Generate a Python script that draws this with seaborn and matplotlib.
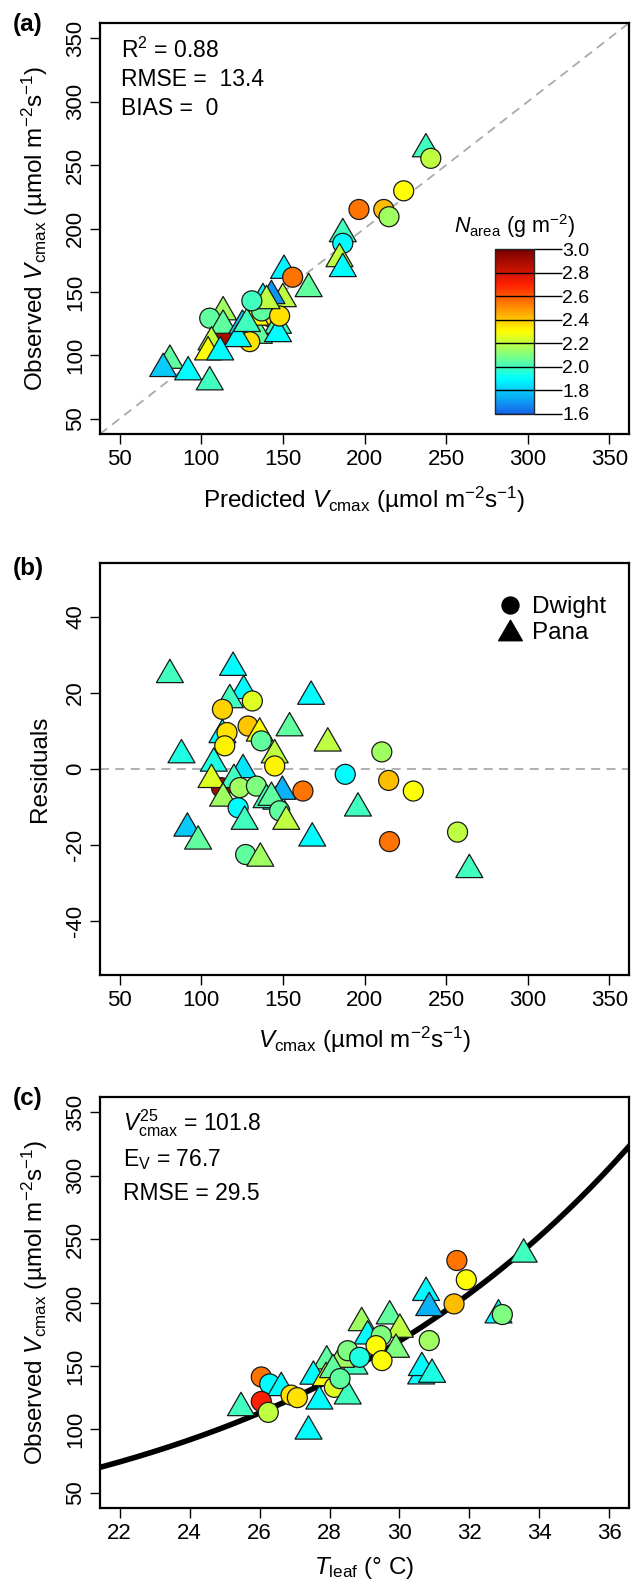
import numpy as np
import pandas as pd
import matplotlib
matplotlib.use("Agg")
import matplotlib.pyplot as plt
import seaborn as sns
from matplotlib.colors import LinearSegmentedColormap, Normalize
from matplotlib.path import Path
from matplotlib.lines import Line2D
from matplotlib.cm import ScalarMappable

# ---- panel (a): predicted vs observed Vcmax
a_site = ["Dwight", "Pana", "Dwight", "Dwight", "Dwight", "Dwight", "Dwight", "Pana", "Dwight", "Pana",
          "Pana", "Pana", "Dwight", "Pana", "Pana", "Pana", "Pana", "Pana", "Dwight", "Pana",
          "Pana", "Dwight", "Pana", "Pana", "Pana", "Dwight", "Pana", "Pana", "Pana", "Pana",
          "Pana", "Pana", "Pana", "Pana", "Pana", "Dwight", "Pana", "Dwight", "Pana", "Dwight"]
a_pred = [113.0, 237.6, 240.6, 224.0, 196.6, 211.8, 215.0, 186.7, 186.7, 184.7,
          186.7, 150.7, 156.0, 165.8, 137.8, 150.0, 143.0, 113.4, 105.2, 113.4,
          125.2, 141.9, 147.0, 135.3, 147.0, 129.7, 122.5, 106.3, 104.2, 111.6,
          80.8, 76.7, 92.0, 105.2, 133.0, 137.0, 128.0, 148.0, 140.0, 131.0]
a_obs = [114.0, 265.7, 255.3, 229.7, 215.0, 215.0, 209.3, 198.8, 188.3, 179.1,
         171.3, 169.9, 161.6, 155.5, 147.6, 147.6, 150.0, 137.2, 129.3, 126.6,
         126.6, 130.5, 126.6, 118.7, 120.0, 110.8, 116.1, 113.5, 105.6, 105.6,
         99.0, 92.5, 89.9, 82.0, 133.0, 135.0, 128.0, 131.0, 146.0, 143.0]
a_narea = [2.9, 2.0, 2.2, 2.3, 2.55, 2.42, 2.15, 2.0, 1.9, 2.2,
           1.9, 1.88, 2.55, 2.05, 1.9, 2.2, 1.7, 2.15, 2.05, 2.05,
           1.8, 2.35, 2.0, 2.05, 1.9, 2.35, 1.9, 2.2, 2.3, 1.9,
           2.05, 1.8, 1.9, 2.0, 2.3, 2.05, 2.0, 2.35, 2.2, 2.0]

# ---- panel (b): residuals
b_site = ["Dwight", "Pana", "Pana", "Pana", "Pana", "Dwight", "Dwight", "Pana", "Pana", "Pana",
          "Dwight", "Pana", "Dwight", "Pana", "Dwight", "Dwight", "Pana", "Pana", "Pana", "Dwight",
          "Pana", "Pana", "Pana", "Dwight", "Dwight", "Pana", "Pana", "Pana", "Pana", "Pana",
          "Dwight", "Dwight", "Dwight", "Pana", "Pana", "Pana", "Pana", "Pana", "Dwight", "Pana",
          "Dwight", "Dwight", "Dwight", "Dwight", "Pana", "Dwight", "Dwight", "Pana"]
b_vcmax = [112.4, 80.8, 119.5, 126.0, 117.5, 131.3, 113.0, 167.3, 154.1, 177.5,
           128.7, 135.8, 136.8, 113.0, 115.8, 114.4, 87.9, 107.7, 145.0, 145.0,
           125.6, 106.3, 120.0, 123.6, 133.8, 113.4, 146.0, 140.0, 149.7, 143.0,
           162.3, 122.6, 148.0, 126.6, 152.1, 91.5, 98.1, 168.0, 127.2, 136.2,
           210.6, 188.2, 214.8, 229.9, 196.0, 215.3, 257.0, 264.2]
b_resid = [-4.9, 25.8, 27.7, 21.6, 19.2, 17.9, 15.7, 20.1, 11.8, 7.8,
           11.3, 10.4, 7.4, 10.0, 9.6, 6.1, 4.7, 2.5, 4.7, 0.8,
           0.8, -1.8, -1.8, -4.9, -4.5, -6.7, -7.5, -7.1, -4.9, -6.5,
           -5.8, -10.2, -11.0, -12.8, -12.8, -14.6, -18.0, -17.2, -22.5, -22.5,
           4.5, -1.4, -3.0, -5.8, -9.3, -19.1, -16.6, -25.5]
b_narea = [2.9, 2.0, 1.9, 1.9, 2.0, 2.25, 2.38, 1.9, 2.05, 2.2,
           2.4, 2.3, 2.05, 1.9, 2.35, 2.32, 1.95, 1.95, 2.2, 2.32,
           1.85, 2.25, 2.0, 2.15, 2.1, 2.15, 1.9, 2.0, 1.75, 2.05,
           2.55, 1.9, 2.05, 2.0, 2.2, 1.8, 2.05, 1.9, 2.05, 2.15,
           2.15, 1.9, 2.42, 2.3, 2.0, 2.55, 2.2, 2.0]

# ---- panel (c): Vcmax vs leaf temperature
c_site = ["Pana", "Dwight", "Dwight", "Pana", "Pana", "Dwight", "Pana", "Dwight", "Pana", "Pana",
          "Pana", "Pana", "Dwight", "Dwight", "Pana", "Dwight", "Pana", "Pana", "Pana", "Dwight",
          "Dwight", "Pana", "Pana", "Dwight", "Pana", "Pana", "Dwight", "Dwight", "Pana", "Dwight",
          "Dwight", "Dwight", "Pana", "Dwight", "Pana", "Pana", "Pana", "Pana", "Dwight", "Pana", "Dwight"]
c_tleaf = [33.55, 31.64, 31.91, 30.76, 30.85, 31.56, 32.83, 32.94, 28.92, 29.72,
           30.01, 29.09, 29.48, 29.33, 29.9, 29.5, 28.71, 28.33, 27.92, 28.52,
           28.86, 27.54, 27.9, 28.14, 28.52, 27.71, 26.05, 26.29, 26.62, 26.9,
           27.08, 26.05, 25.47, 26.25, 27.4, 30.62, 30.64, 30.93, 30.85, 28.1, 28.3]
c_vcmax = [241.0, 233.1, 217.9, 210.8, 198.9, 198.9, 193.1, 190.5, 187.0, 192.3,
           181.8, 176.5, 173.9, 166.0, 166.0, 154.2, 152.8, 158.1, 156.8, 162.0,
           156.8, 144.8, 143.7, 133.1, 129.2, 125.2, 141.3, 135.8, 135.8, 127.0,
           125.0, 122.0, 120.0, 113.4, 101.5, 145.0, 151.6, 146.3, 170.0, 150.0, 140.0]
c_narea = [2.0, 2.55, 2.3, 1.9, 1.75, 2.42, 1.9, 2.1, 2.15, 2.05,
           2.2, 1.9, 2.1, 2.3, 2.1, 2.3, 2.0, 2.15, 2.05, 2.1,
           1.95, 1.9, 2.3, 2.25, 2.0, 1.9, 2.55, 1.9, 1.9, 2.35,
           2.35, 2.7, 2.0, 2.2, 1.9, 1.9, 1.9, 1.95, 2.15, 2.05, 2.05]

# fitted Arrhenius parameters shown in panel (c)
V25 = 101.8
EV = 76.7       # kJ mol-1
RMSE_C = 29.5

cbar_ticks = [1.6, 1.8, 2.0, 2.2, 2.4, 2.6, 2.8, 3.0]
axis_ticks = [50, 100, 150, 200, 250, 300, 350]
t_ticks = [22, 24, 26, 28, 30, 32, 34, 36]
res_ticks = [-40, -20, 0, 20, 40]

sns.set_theme(style="ticks")
plt.rcParams["font.family"] = ["Liberation Sans", "DejaVu Sans"]
plt.rcParams["mathtext.fontset"] = "custom"
plt.rcParams["mathtext.rm"] = "Liberation Sans"
plt.rcParams["mathtext.it"] = "Liberation Sans:italic"
plt.rcParams["mathtext.bf"] = "Liberation Sans:bold"
plt.rcParams["axes.unicode_minus"] = False
plt.rcParams["text.color"] = "black"
plt.rcParams["axes.labelcolor"] = "black"

W, H = 631, 1581
fig = plt.figure(figsize=(W / 100, H / 100), dpi=100)

cmap = LinearSegmentedColormap.from_list(
    "narea", [(0.0, "#1464eb"), (0.3 / 1.4, "#00ffff"), (0.7 / 1.4, "#ffff00"),
              (1.1 / 1.4, "#ff2000"), (1.0, "#7a0000")])
norm = Normalize(1.6, 3.0)

tri = Path([(-1, -0.866), (1, -0.866), (0, 0.866), (-1, -0.866)], closed=True)
markers = {"Dwight": "o", "Pana": tri}
sizes = {"Dwight": 207, "Pana": 377}


def box(top, bottom):
    return fig.add_axes([100 / W, 1 - bottom / H, 529 / W, (bottom - top) / H])


def style_axes(ax, xlabel, ylabel, xl_off, yl_off):
    for s in ax.spines.values():
        s.set_visible(True)
        s.set_linewidth(1.6)
        s.set_color("black")
    ax.tick_params(direction="out", length=7, width=1.0, labelsize=16, pad=4, colors="black")
    ax.tick_params(axis="y", labelrotation=90, pad=3)
    for lab in ax.get_yticklabels():
        lab.set_va("center")
    ax.set_xlabel(xlabel, fontsize=17.5)
    ax.set_ylabel(ylabel, fontsize=17.5)
    ax.xaxis.label.set_va("center")
    ax.yaxis.label.set_va("center")
    ax.xaxis.set_label_coords(0.5, xl_off)
    ax.yaxis.set_label_coords(yl_off, 0.5)
    ax.grid(False)


def points(ax, df, x, y):
    sns.scatterplot(data=df, x=x, y=y, hue="narea", palette=cmap, hue_norm=norm,
                    style="site", markers=markers, size="site", sizes=sizes,
                    edgecolor="#1a1a1a", linewidth=0.9, legend=False, ax=ax, zorder=3)


unit = " (µmol m$^{-2}$s$^{-1}$)"

# ---------------- (a)
df_a = pd.DataFrame({"pred": a_pred, "obs": a_obs, "narea": a_narea, "site": a_site})
ax = box(23, 434)
ax.axline((0, 0), slope=1, color="#aaaaaa", lw=1.3, ls=(0, (5, 3.5)), zorder=1)
points(ax, df_a, "pred", "obs")
ax.set_xlim(38, 362)
ax.set_ylim(38, 362)
ax.set_xticks(axis_ticks)
ax.set_yticks(axis_ticks)
style_axes(ax, "Predicted $V_{\\mathrm{cmax}}$" + unit, "Observed $V_{\\mathrm{cmax}}$" + unit,
           -66 / 411, -65 / 529)
for txt, yp in [("R$^{2}$ = 0.88", 50), ("RMSE =  13.4", 79), ("BIAS =  0", 108)]:
    ax.text(0.04, 1 - (yp - 23) / 411, txt, transform=ax.transAxes, fontsize=16.5,
            ha="left", va="center")

# colour key
cax = fig.add_axes([495 / W, 1 - 414 / H, 39 / W, 165 / H])
cb = fig.colorbar(ScalarMappable(norm=norm, cmap=cmap), cax=cax, ticks=cbar_ticks)
cb.outline.set_linewidth(1.0)
cax.tick_params(direction="out", length=20, width=1.0, labelsize=14, pad=0.5, colors="black")
cax.set_yticklabels([f"{t:.1f}" for t in cbar_ticks])
for t in cbar_ticks:
    cax.axhline(t, color="black", lw=1.0)
fig.text(514 / W, 1 - 226 / H, "$N_{\\mathrm{area}}$ (g m$^{-2}$)", fontsize=15.5,
         ha="center", va="center")

# ---------------- (b)
df_b = pd.DataFrame({"vc": b_vcmax, "res": b_resid, "narea": b_narea, "site": b_site})
ax = box(563, 975)
ax.axhline(0, color="#aaaaaa", lw=1.3, ls=(0, (5, 3.5)), zorder=1)
points(ax, df_b, "vc", "res")
ax.set_xlim(38, 362)
ax.set_ylim(-54.2, 54.2)
ax.set_xticks(axis_ticks)
ax.set_yticks(res_ticks)
style_axes(ax, "$V_{\\mathrm{cmax}}$" + unit, "Residuals", -65 / 412, -60 / 529)
handles = [Line2D([], [], ls="none", marker="o", color="black", markersize=12.2),
           Line2D([], [], ls="none", marker=tri, color="black", markersize=17)]
ax.legend(handles, ["Dwight", "Pana"], loc="center left", bbox_to_anchor=(0.752, 0.862),
          frameon=False, fontsize=17.5, handlelength=1.0, handletextpad=0.4,
          borderpad=0, borderaxespad=0, labelspacing=0.15)

# ---------------- (c)
df_c = pd.DataFrame({"t": c_tleaf, "vc": c_vcmax, "narea": c_narea, "site": c_site})
ax = box(1097, 1508)
t_grid = np.linspace(21.0, 37.0, 200)
curve = V25 * np.exp(EV * 1000 * (t_grid - 25) / (8.314 * 298.15 * (t_grid + 273.15)))
sns.lineplot(x=t_grid, y=curve, color="black", lw=4.0, ax=ax, zorder=2)
points(ax, df_c, "t", "vc")
ax.set_xlim(21.44, 36.56)
ax.set_ylim(38, 362)
ax.set_xticks(t_ticks)
ax.set_yticks(axis_ticks)
style_axes(ax, "$T_{\\mathrm{leaf}}$ (° C)", "Observed $V_{\\mathrm{cmax}}$" + unit,
           -60 / 411, -65 / 529)
for txt, yp in [(f"$V_{{\\mathrm{{cmax}}}}^{{25}}$ = {V25}", 1123), (f"E$_{{\\mathrm{{V}}}}$ = {EV}", 1160),
                (f"RMSE = {RMSE_C}", 1193)]:
    ax.text(0.043, 1 - (yp - 1097) / 411, txt, transform=ax.transAxes, fontsize=16.5,
            ha="left", va="center")

# panel letters
for lab, yp in [("(a)", 25), ("(b)", 568), ("(c)", 1098)]:
    fig.text(28 / W, 1 - yp / H, lab, fontsize=17.5, fontweight="bold", ha="center", va="center")

fig.savefig("out.png", dpi=100)
plt.close(fig)
